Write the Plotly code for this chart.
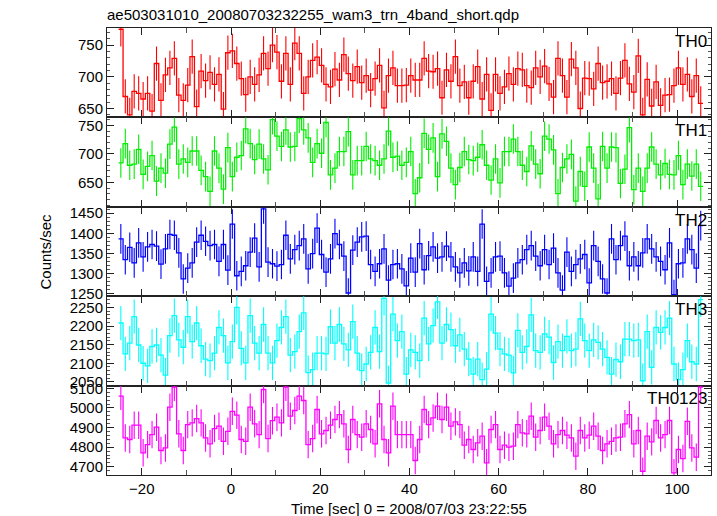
import numpy as np
import plotly.graph_objects as go
from plotly.subplots import make_subplots

TITLE = "ae503031010_20080703232255_wam3_trn_4band_short.qdp"
X_TITLE = "Time [sec] 0 = 2008/07/03 23:22:55"
Y_TITLE = "Counts/sec"

T_START = -24.7   # centre of first 1-s bin
BIN = 1.0

labels = ["TH0", "TH1", "TH2", "TH3", "TH0123"]
colors = ["#ff0000", "#00ee00", "#0000ff", "#00ffff", "#ff00ff"]

th0 = [775, 669, 640, 677, 674, 665, 674, 646, 721, 663,
       703, 714, 729, 671, 663, 687, 732, 653, 709, 694,
       707, 688, 704, 649, 738, 741, 721, 697, 672, 700,
       688, 703, 737, 713, 750, 739, 693, 737, 688, 753,
       737, 674, 700, 726, 731, 718, 688, 684, 712, 695,
       735, 705, 694, 716, 691, 702, 679, 697, 718, 651,
       702, 714, 686, 686, 687, 702, 695, 695, 729, 709,
       708, 713, 667, 711, 693, 732, 686, 692, 667, 693,
       716, 665, 704, 647, 704, 674, 684, 705, 688, 713,
       711, 686, 683, 714, 700, 717, 689, 668, 729, 702,
       668, 728, 714, 650, 698, 697, 681, 721, 691, 693,
       697, 674, 698, 726, 689, 676, 733, 640, 696, 654,
       692, 655, 671, 672, 686, 714, 688, 704, 669, 702,
       658]

th1 = [684, 718, 680, 682, 708, 664, 678, 697, 652, 675,
       666, 717, 747, 682, 691, 685, 705, 705, 671, 660,
       634, 705, 675, 638, 711, 660, 694, 697, 744, 718,
       690, 717, 691, 672, 760, 731, 713, 742, 712, 713,
       762, 742, 728, 685, 718, 701, 755, 663, 675, 704,
       704, 739, 663, 688, 688, 713, 691, 688, 680, 691,
       740, 694, 696, 680, 685, 704, 630, 658, 736, 708,
       728, 660, 735, 722, 675, 646, 676, 704, 690, 688,
       694, 716, 680, 654, 691, 649, 704, 704, 726, 704,
       680, 669, 714, 682, 665, 731, 726, 707, 630, 676,
       691, 699, 617, 669, 643, 712, 675, 621, 713, 675,
       712, 711, 648, 673, 746, 637, 675, 634, 675, 712,
       682, 663, 683, 664, 663, 697, 646, 682, 661, 682,
       643]

th2 = [1386, 1334, 1365, 1326, 1376, 1341, 1366, 1372, 1368, 1323,
       1361, 1397, 1395, 1351, 1286, 1313, 1326, 1378, 1395, 1380,
       1369, 1372, 1330, 1372, 1308, 1423, 1294, 1305, 1319, 1353,
       1388, 1316, 1461, 1328, 1324, 1318, 1322, 1395, 1336, 1359,
       1369, 1386, 1311, 1349, 1413, 1347, 1303, 1336, 1399, 1372,
       1343, 1251, 1358, 1378, 1391, 1393, 1322, 1305, 1324, 1361,
       1283, 1322, 1324, 1311, 1269, 1338, 1303, 1374, 1309, 1344,
       1366, 1338, 1341, 1368, 1341, 1316, 1301, 1326, 1306, 1341,
       1305, 1423, 1280, 1301, 1341, 1343, 1301, 1268, 1288, 1326,
       1334, 1359, 1369, 1343, 1319, 1359, 1322, 1363, 1301, 1258,
       1353, 1305, 1322, 1336, 1347, 1276, 1369, 1330, 1286, 1251,
       1386, 1334, 1369, 1393, 1319, 1341, 1319, 1351, 1386, 1361,
       1341, 1330, 1309, 1376, 1247, 1324, 1326, 1386, 1359, 1313,
       1419]

th3 = [2208, 2125, 2154, 2225, 2149, 2100, 2093, 2145, 2149, 2122,
       2068, 2174, 2228, 2163, 2143, 2225, 2158, 2208, 2147, 2111,
       2107, 2127, 2196, 2174, 2101, 2158, 2250, 2140, 2101, 2228,
       2154, 2127, 2204, 2127, 2101, 2161, 2196, 2225, 2122, 2131,
       2185, 2235, 2075, 2083, 2127, 2127, 2125, 2198, 2154, 2204,
       2152, 2136, 2212, 2127, 2080, 2098, 2129, 2196, 2131, 2274,
       2047, 2232, 2161, 2185, 2071, 2136, 2129, 2107, 2221, 2152,
       2201, 2265, 2154, 2204, 2190, 2147, 2176, 2138, 2111, 2071,
       2111, 2056, 2084, 2232, 2181, 2138, 2125, 2122, 2074, 2188,
       2129, 2145, 2230, 2134, 2129, 2179, 2170, 2102, 2158, 2134,
       2172, 2134, 2138, 2219, 2161, 2134, 2163, 2156, 2138, 2116,
       2071, 2110, 2104, 2165, 2165, 2161, 2163, 2053, 2185, 2089,
       2196, 2183, 2196, 2221, 2098, 2056, 2083, 2161, 2104, 2098,
       2271]

th0123 = [5060, 4847, 4839, 4912, 4912, 4771, 4813, 4864, 4902, 4783,
          4796, 5004, 5106, 4868, 4783, 4915, 4924, 4946, 4924, 4847,
          4817, 4895, 4907, 4830, 4881, 4983, 4963, 4839, 4830, 5004,
          4919, 4864, 5094, 4844, 4935, 4953, 4924, 5106, 4958, 4987,
          5060, 5038, 4813, 4844, 4992, 4868, 4885, 4912, 4941, 4966,
          4919, 4788, 4941, 4864, 4851, 4919, 4890, 4817, 5021, 4839,
          4771, 5009, 4864, 4864, 4864, 4864, 4732, 4839, 4992, 4915,
          4949, 5009, 4941, 5004, 4907, 4929, 4915, 4810, 4839, 4788,
          4822, 4856, 4720, 4890, 4915, 4788, 4810, 4800, 4805, 4915,
          4873, 4868, 4958, 4851, 4885, 4953, 4907, 4817, 4864, 4885,
          4861, 4847, 4754, 4885, 4847, 4861, 4907, 4856, 4783, 4817,
          4830, 4847, 4851, 4919, 4966, 4817, 4885, 4677, 4856, 4827,
          4936, 4847, 4864, 4936, 4669, 4788, 4742, 4932, 4796, 4749,
          5106]

errors = [27, 26, 37, 46, 70]   # typical 1-sigma error bar per band

y_ranges = [[636, 777], [607, 764], [1243, 1466], [2040, 2280], [4658, 5114]]
y_dticks = [50, 50, 50, 50, 100]
y_minor = [10, 10, 10, 10, 20]
x_range = [-27.8, 107.6]

series = [th0, th1, th2, th3, th0123]

fig = make_subplots(rows=5, cols=1, shared_xaxes=True, vertical_spacing=0)

FONT = "Liberation Sans, Arial, Helvetica, sans-serif"
AX_COL = "#222222"

for i, vals in enumerate(series):
    n = len(vals)
    centers = T_START + BIN * np.arange(n)
    edges = np.append(centers - BIN / 2, centers[-1] + BIN / 2)
    ystep = list(vals) + [vals[-1]]
    fig.add_trace(go.Scatter(x=edges, y=ystep, mode="lines", line_shape="hv",
                             line=dict(color=colors[i], width=1.3),
                             hoverinfo="skip", showlegend=False), row=i + 1, col=1)
    fig.add_trace(go.Scatter(x=centers, y=vals, mode="markers",
                             marker=dict(size=1, color=colors[i], opacity=0),
                             error_y=dict(type="constant", value=errors[i], width=0,
                                          thickness=1.1, color=colors[i]),
                             showlegend=False), row=i + 1, col=1)
    fig.update_yaxes(row=i + 1, col=1, range=y_ranges[i], dtick=y_dticks[i], tick0=0,
                     ticks="inside", ticklen=7, tickcolor=AX_COL, tickwidth=1,
                     minor=dict(dtick=y_minor[i], ticks="inside", ticklen=3,
                                tickcolor="#555555"),
                     showline=True, linecolor=AX_COL, linewidth=1, mirror="allticks",
                     showgrid=False, zeroline=False,
                     tickfont=dict(family=FONT, size=15, color="black"))
    fig.add_annotation(text=labels[i], xref=f"x{'' if i == 0 else i + 1} domain",
                       yref=f"y{'' if i == 0 else i + 1} domain",
                       x=0.997, y=0.98, xanchor="right", yanchor="top", showarrow=False,
                       font=dict(family=FONT, size=17, color="black"))

fig.update_xaxes(range=x_range, dtick=20, tick0=0, ticks="inside", ticklen=7,
                 tickcolor=AX_COL, tickwidth=1,
                 minor=dict(dtick=10, ticks="inside", ticklen=5, tickcolor="#555555"),
                 showline=True, linecolor=AX_COL, linewidth=1, mirror="allticks",
                 showgrid=False, zeroline=False,
                 tickfont=dict(family=FONT, size=15, color="black"))

fig.add_annotation(text=TITLE, xref="paper", yref="paper", x=0, y=1, xanchor="left",
                   yanchor="bottom", yshift=3, xshift=-2, showarrow=False,
                   font=dict(family=FONT, size=15, color="black"))
fig.add_annotation(text=Y_TITLE, xref="paper", yref="paper", x=0, y=0.5, xshift=-62,
                   xanchor="center", yanchor="middle", textangle=-90, showarrow=False,
                   font=dict(family=FONT, size=15, color="black"))
fig.add_annotation(text=X_TITLE, xref="paper", yref="paper", x=0.5, y=0, yanchor="top",
                   yshift=-23, showarrow=False,
                   font=dict(family=FONT, size=15, color="black"))

fig.update_layout(width=717, height=516, margin=dict(l=107, r=6, t=28, b=41),
                  plot_bgcolor="white", paper_bgcolor="white",
                  font=dict(family=FONT, size=15, color="black"))

fig.write_html("out.html", config={"displayModeBar": False},
               post_script="document.body.style.margin='0';"
                           "document.body.style.overflow='hidden';")
